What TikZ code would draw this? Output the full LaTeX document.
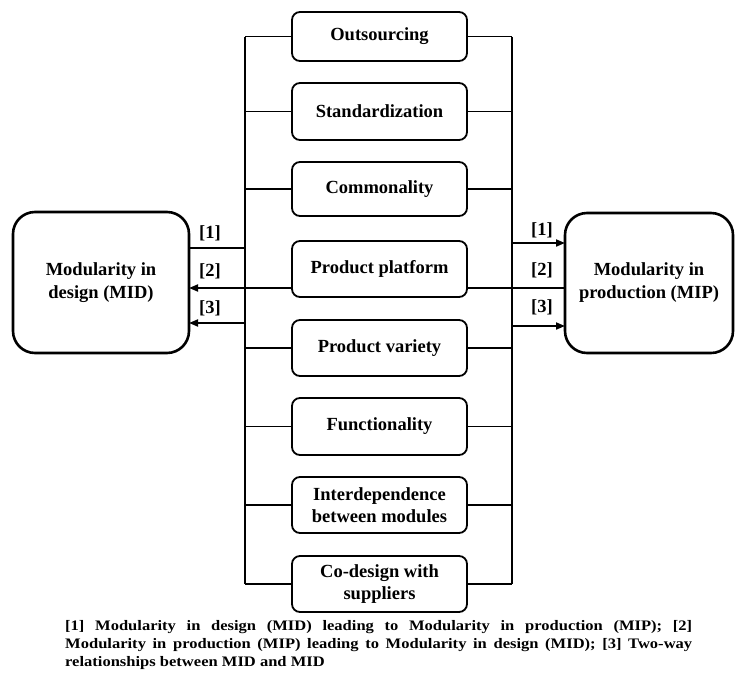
\documentclass[tikz,border=0pt]{standalone}
\usepackage{fontspec}
\setmainfont{Liberation Serif}
\newfontfamily\capfont[FakeStretch=1.14]{Liberation Serif}
\usetikzlibrary{arrows.meta}
\tikzset{
  midbox/.style={draw, line width=1.8pt, rounded corners=8pt, minimum width=175pt,
    inner sep=0pt, outer sep=0pt, align=center,
    font=\bfseries\fontsize{18.5}{22}\selectfont},
  sidebox/.style={draw, line width=2.6pt, rounded corners=22pt,
    inner sep=0pt, outer sep=0pt, align=center,
    font=\bfseries\fontsize{18.5}{23}\selectfont},
  conn/.style={line width=1.8pt},
  arr/.style={line width=1.8pt, -{Triangle[length=9pt,width=7pt]}},
  lab/.style={font=\bfseries\fontsize{18.5}{20}\selectfont, inner sep=0pt},
  captext/.style={anchor=base west, inner sep=0pt, font=\capfont\bfseries\fontsize{14.5}{18}\selectfont},
}
\begin{document}
\begin{tikzpicture}[x=1pt,y=-1pt]
\useasboundingbox (0,0) rectangle (735,672);
% middle boxes
\node[midbox, minimum height=49pt] (b1) at (379.5,36.5) {Outsourcing};
\node[midbox, minimum height=57pt] (b2) at (379.5,111.5) {Standardization};
\node[midbox, minimum height=54pt] (b3) at (379.5,189) {Commonality};
\node[midbox, minimum height=56pt] (b4) at (379.5,269) {Product platform};
\node[midbox, minimum height=56pt] (b5) at (379.5,348) {Product variety};
\node[midbox, minimum height=57pt] (b6) at (379.5,426.5) {Functionality};
\node[midbox, minimum height=56pt] (b7) at (379.5,505) {Interdependence\\between modules};
\node[midbox, minimum height=56pt] (b8) at (379.5,584) {Co-design with\\suppliers};
% side boxes
\node[sidebox, minimum width=176pt, minimum height=141pt] (mid) at (101,282.5) {Modularity in\\design (MID)};
\node[sidebox, minimum width=168pt, minimum height=140pt] (mip) at (649,283) {Modularity in\\production (MIP)};
% vertical bus coordinates
\coordinate (L) at (245,0);
\coordinate (R) at (512,0);
% vertical lines
\draw[conn] (b1.west -| L) -- (b8.west -| L);
\draw[conn] (b1.east -| R) -- (b8.east -| R);
% horizontal connectors
\foreach \b in {b1,b2,b3,b5,b6,b7,b8}{
  \draw[conn] (\b.west) -- (\b.west -| L);
  \draw[conn] (\b.east) -- (\b.east -| R);
}
% left side
\coordinate (l1) at (245,248);
\coordinate (l3) at (245,323);
\coordinate (p4w) at ([yshift=-19pt]b4.west);
\coordinate (p4e) at ([yshift=-19pt]b4.east);
\draw[conn] (l1) -- (l1 -| mid.east);
\draw[arr] (p4w) -- (p4w -| mid.east);
\draw[arr] (l3) -- (l3 -| mid.east);
% right side
\coordinate (r1) at (512,243);
\coordinate (r3) at (512,326);
\draw[arr] (r1) -- (r1 -| mip.west);
\draw[conn] (p4e) -- (p4e -| mip.west);
\draw[arr] (r3) -- (r3 -| mip.west);
% labels
\node[lab] (t1) at (210,233) {[1]};
\node[lab] (t2) at (210,271) {[2]};
\node[lab] (t3) at (210,308) {[3]};
\node[lab] (u1) at (542,230) {[1]};
\node[lab] (u2) at (542,270) {[2]};
\node[lab] (u3) at (542,307) {[3]};
% caption
\node[captext] (cap1) at (65,630)
  {\makebox[627pt][s]{[1] Modularity in design (MID) leading to Modularity in production (MIP); [2]}};
\node[captext] (cap2) at (65,648)
  {\makebox[627pt][s]{Modularity in production (MIP) leading to Modularity in design (MID); [3] Two-way}};
\node[captext] (cap3) at (65,666)
  {relationships between MID and MID};
\end{tikzpicture}
\end{document}
